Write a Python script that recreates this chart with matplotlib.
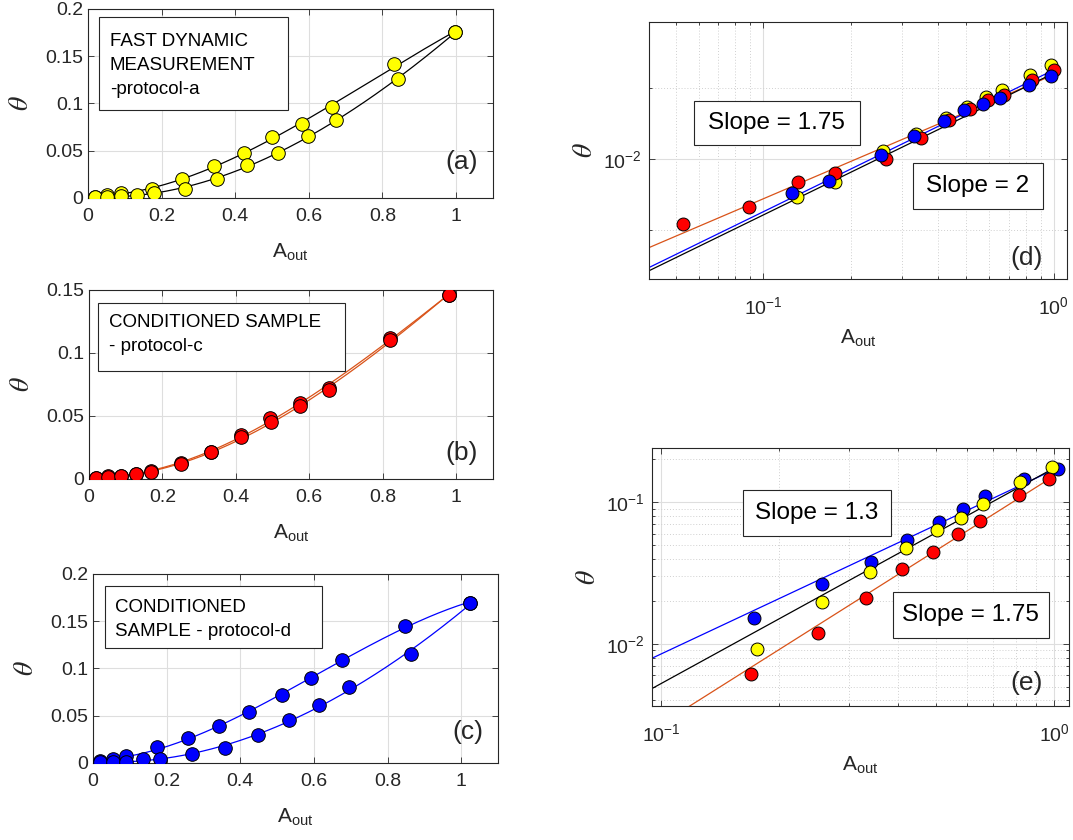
import numpy as np
import matplotlib
matplotlib.use("Agg")
import matplotlib.pyplot as plt
from matplotlib.patches import Rectangle
from matplotlib.ticker import FixedLocator, NullFormatter, FuncFormatter, LogFormatterSciNotation

plt.rcParams['font.family'] = ['Liberation Sans', 'DejaVu Sans']
plt.rcParams['mathtext.fontset'] = 'stix'

# (a) fast dynamic measurement, protocol-a  (two branches of the loop)
a_up_x = [0.018, 0.052, 0.089, 0.174, 0.256, 0.341, 0.423, 0.500, 0.582, 0.662, 0.830, 0.997]
a_up_y = [0.001, 0.0028, 0.0053, 0.0099, 0.0205, 0.0336, 0.0471, 0.0641, 0.0779, 0.0966, 0.1416, 0.1752]
a_dn_x = [0.018, 0.052, 0.089, 0.134, 0.178, 0.264, 0.351, 0.433, 0.515, 0.599, 0.675, 0.841, 0.997]
a_dn_y = [0.001, 0.001, 0.0018, 0.0035, 0.0053, 0.0099, 0.0205, 0.0347, 0.0481, 0.0651, 0.0821, 0.1260, 0.1752]

# (b) conditioned sample, protocol-c
b_up_x = [0.018, 0.052, 0.088, 0.127, 0.169, 0.251, 0.333, 0.413, 0.494, 0.575, 0.654, 0.820, 0.980]
b_up_y = [0.0008, 0.0021, 0.0026, 0.0040, 0.0062, 0.0127, 0.0216, 0.0346, 0.0480, 0.0602, 0.0724, 0.1117, 0.1463]
b_dn_x = [0.018, 0.052, 0.088, 0.127, 0.169, 0.251, 0.333, 0.413, 0.497, 0.575, 0.654, 0.820, 0.980]
b_dn_y = [0.0008, 0.0019, 0.0024, 0.0036, 0.0053, 0.0120, 0.0212, 0.0330, 0.0455, 0.0580, 0.0705, 0.1104, 0.1463]

# (c) conditioned sample, protocol-d
c_up_x = [0.018, 0.055, 0.089, 0.173, 0.259, 0.343, 0.425, 0.514, 0.593, 0.675, 0.848, 1.025]
c_up_y = [0.0018, 0.0046, 0.0070, 0.0165, 0.0264, 0.0387, 0.0539, 0.0722, 0.0898, 0.1085, 0.1454, 0.1697]
c_dn_x = [0.018, 0.055, 0.089, 0.136, 0.182, 0.269, 0.359, 0.447, 0.532, 0.615, 0.696, 0.865, 1.025]
c_dn_y = [0.001, 0.001, 0.001, 0.0042, 0.0042, 0.0095, 0.0158, 0.0299, 0.0458, 0.0609, 0.0799, 0.1151, 0.1697]

# (d) log-log
d_red_x = [0.053, 0.089, 0.132, 0.177, 0.265, 0.348, 0.434, 0.513, 0.593, 0.672, 0.838, 1.0]
d_red_y = [0.0012, 0.00213, 0.0047, 0.0063, 0.0099, 0.0196, 0.0354, 0.0506, 0.0677, 0.0796, 0.130, 0.179]
d_yel_x = [0.131, 0.176, 0.258, 0.336, 0.427, 0.502, 0.586, 0.664, 0.826, 0.98]
d_yel_y = [0.00289, 0.0048, 0.0130, 0.0225, 0.0374, 0.0546, 0.0754, 0.0937, 0.152, 0.211]
d_blu_x = [0.126, 0.168, 0.255, 0.330, 0.418, 0.491, 0.571, 0.652, 0.820, 0.98]
d_blu_y = [0.00329, 0.00495, 0.0114, 0.0211, 0.0343, 0.049, 0.0589, 0.073, 0.110, 0.149]
d_fit_slope = [1.75, 2.0, 2.0]
d_fit_coef = [0.155, 0.181, 0.163]
d_fit_col = ['#D95319', '#0000FF', 'black']

# (e) log-log
e_blu_x = [0.172, 0.256, 0.342, 0.422, 0.508, 0.586, 0.668, 0.836, 1.02]
e_blu_y = [0.0152, 0.0264, 0.0381, 0.0542, 0.0718, 0.0897, 0.1095, 0.145, 0.171]
e_yel_x = [0.175, 0.257, 0.340, 0.420, 0.503, 0.580, 0.659, 0.819, 0.987]
e_yel_y = [0.0092, 0.0196, 0.0324, 0.0473, 0.0638, 0.0771, 0.0968, 0.1396, 0.1766]
e_red_x = [0.169, 0.251, 0.332, 0.410, 0.493, 0.569, 0.648, 0.815, 0.971]
e_red_y = [0.0061, 0.0119, 0.0211, 0.0338, 0.0448, 0.0598, 0.0730, 0.1127, 0.145]
e_fit_slope = [1.3, 1.52, 1.75]
e_fit_coef = [0.1695, 0.174, 0.153]
e_fit_col = ['#0000FF', 'black', '#D95319']

AX = '#262626'
GRID = '#dedede'
MS = 9.8


def style(ax, xpad=7, xlabpad=12, ylabpad=8):
    for s in ax.spines.values():
        s.set_color(AX)
        s.set_linewidth(0.8)
    ax.tick_params(which='both', direction='in', top=True, right=True,
                   colors=AX, labelsize=14, width=0.6)
    ax.tick_params(which='major', length=4)
    ax.tick_params(which='minor', length=2.5)
    ax.tick_params(axis='x', pad=xpad)
    ax.grid(True, which='major', color=GRID, lw=0.8)
    ax.set_axisbelow(True)
    ax.set_xlabel(r'$\mathregular{A_{out}}$', fontsize=15, color=AX, labelpad=xlabpad)
    ax.set_ylabel(r'$\theta$', fontsize=20, color=AX, labelpad=ylabpad)


def textbox(ax, x0, y0, x1, y1, tx, ty, s):
    ax.add_patch(Rectangle((x0, y0), x1 - x0, y1 - y0, transform=ax.transAxes,
                           fc='white', ec=AX, lw=0.8, zorder=5))
    ax.text(tx, ty, s, transform=ax.transAxes, fontsize=13.5, ha='left', va='top',
            linespacing=1.55, zorder=6, color='black')


def loop_panel(ax, ux, uy, dx, dy, fc, lc, ymax, yt):
    for xs, ys in ((ux, uy), (dx, dy)):
        p = np.polyfit(xs, ys, 3)
        xx = np.linspace(xs[0], xs[-1], 200)
        ax.plot(xx, np.polyval(p, xx), color=lc, lw=0.9, zorder=2)
    for xs, ys in ((ux, uy), (dx, dy)):
        ax.plot(xs, ys, 'o', ms=MS, mfc=fc, mec='black', mew=0.7, zorder=3)
    ax.set_xlim(0, 1.1)
    ax.set_ylim(0, ymax)
    ax.set_xticks([0, 0.2, 0.4, 0.6, 0.8, 1.0])
    ax.set_yticks(yt)
    fmt = FuncFormatter(lambda v, p: '%g' % round(v, 4))
    ax.xaxis.set_major_formatter(fmt)
    ax.yaxis.set_major_formatter(fmt)
    style(ax)


def slopebox(ax, cx, cy, w, h, s):
    ax.add_patch(Rectangle((cx - w / 2, cy - h / 2), w, h, transform=ax.transAxes,
                           fc='white', ec=AX, lw=0.8, zorder=5))
    ax.text(cx, cy, s, transform=ax.transAxes, fontsize=17.5, ha='center', va='center',
            zorder=6, color='black')


fig = plt.figure(figsize=(10.73, 8.4), dpi=100)

# ---- (a)
ax_a = fig.add_axes([0.0820, 0.7643, 0.3774, 0.225])
loop_panel(ax_a, a_up_x, a_up_y, a_dn_x, a_dn_y, '#FFFF00', 'black', 0.2,
           [0, 0.05, 0.1, 0.15, 0.2])
textbox(ax_a, 0.027, 0.466, 0.494, 0.958, 0.054, 0.874,
        'FAST DYNAMIC\nMEASUREMENT\n-protocol-a')
ax_a.text(0.963, 0.19, '(a)', transform=ax_a.transAxes, fontsize=19, color=AX,
          ha='right', va='center')

# ---- (b)
ax_b = fig.add_axes([0.0829, 0.4298, 0.3765, 0.225])
loop_panel(ax_b, b_up_x, b_up_y, b_dn_x, b_dn_y, '#FF0000', '#D95319', 0.15,
           [0, 0.05, 0.1, 0.15])
textbox(ax_b, 0.022, 0.573, 0.635, 0.933, 0.0495, 0.874,
        'CONDITIONED SAMPLE\n- protocol-c')
ax_b.text(0.963, 0.138, '(b)', transform=ax_b.transAxes, fontsize=19, color=AX,
          ha='right', va='center')

# ---- (c)
ax_c = fig.add_axes([0.0867, 0.0917, 0.3774, 0.225])
loop_panel(ax_c, c_up_x, c_up_y, c_dn_x, c_dn_y, '#0000FF', '#0000FF', 0.2,
           [0, 0.05, 0.1, 0.15, 0.2])
textbox(ax_c, 0.0296, 0.608, 0.565, 0.937, 0.054, 0.869,
        'CONDITIONED\nSAMPLE - protocol-d')
ax_c.text(0.963, 0.164, '(c)', transform=ax_c.transAxes, fontsize=19, color=AX,
          ha='right', va='center')


def log_style(ax, xmaj, xmin, ymaj, ymin):
    ax.set_xscale('log')
    ax.set_yscale('log')
    ax.xaxis.set_major_locator(FixedLocator(xmaj))
    ax.xaxis.set_minor_locator(FixedLocator(xmin))
    ax.yaxis.set_major_locator(FixedLocator(ymaj))
    ax.yaxis.set_minor_locator(FixedLocator(ymin))
    ax.xaxis.set_major_formatter(LogFormatterSciNotation())
    ax.yaxis.set_major_formatter(LogFormatterSciNotation())
    ax.xaxis.set_minor_formatter(NullFormatter())
    ax.yaxis.set_minor_formatter(NullFormatter())
    style(ax, xpad=12.5, xlabpad=7, ylabpad=4)
    ax.tick_params(axis='y', pad=5)
    ax.grid(True, which='minor', color='#d0d0d0', lw=0.7, ls=(0, (1, 2)))


xminor_d = [0.04, 0.05, 0.06, 0.07, 0.08, 0.09, 0.2, 0.3, 0.4, 0.5, 0.6, 0.7, 0.8, 0.9]
xminor_e = [0.2, 0.3, 0.4, 0.5, 0.6, 0.7, 0.8, 0.9]
yminor_e = [0.004, 0.005, 0.006, 0.007, 0.008, 0.009,
            0.02, 0.03, 0.04, 0.05, 0.06, 0.07, 0.08, 0.09, 0.2]

# ---- (d)
ax_d = fig.add_axes([0.6048, 0.6679, 0.3896, 0.306])
xl = np.array([0.04, 1.0])
for s, c, col in zip(d_fit_slope, d_fit_coef, d_fit_col):
    ax_d.plot(xl, c * xl ** s, color=col, lw=0.9, zorder=2)
for xs, ys, fc in ((d_yel_x, d_yel_y, '#FFFF00'), (d_red_x, d_red_y, '#FF0000'),
                   (d_blu_x, d_blu_y, '#0000FF')):
    ax_d.plot(xs, ys, 'o', ms=9.3, mfc=fc, mec='black', mew=0.7, zorder=3)
log_style(ax_d, [0.1, 1.0], xminor_d, [0.01], [0.001, 0.1])
ax_d.set_xlim(0.0404, 1.11)
ax_d.set_ylim(2.04e-4, 0.86)
slopebox(ax_d, 0.306, 0.607, 0.397, 0.172, 'Slope = 1.75')
slopebox(ax_d, 0.787, 0.362, 0.309, 0.178, 'Slope = 2')
ax_d.text(0.943, 0.082, '(d)', transform=ax_d.transAxes, fontsize=19, color=AX,
          ha='right', va='center')

# ---- (e)
ax_e = fig.add_axes([0.6076, 0.1595, 0.3886, 0.307])
xl = np.array([0.0948, 1.0])
for s, c, col in zip(e_fit_slope, e_fit_coef, e_fit_col):
    ax_e.plot(xl, c * xl ** s, color=col, lw=0.9, zorder=2)
for xs, ys, fc in ((e_blu_x, e_blu_y, '#0000FF'), (e_yel_x, e_yel_y, '#FFFF00'),
                   (e_red_x, e_red_y, '#FF0000')):
    ax_e.plot(xs, ys, 'o', ms=9.3, mfc=fc, mec='black', mew=0.7, zorder=3)
log_style(ax_e, [0.1, 1.0], xminor_e, [0.01, 0.1], yminor_e)
ax_e.set_xlim(0.0948, 1.09)
ax_e.set_ylim(0.00365, 0.240)
slopebox(ax_e, 0.396, 0.748, 0.356, 0.178, 'Slope = 1.3')
slopebox(ax_e, 0.765, 0.353, 0.376, 0.178, 'Slope = 1.75')
ax_e.text(0.938, 0.089, '(e)', transform=ax_e.transAxes, fontsize=19, color=AX,
          ha='right', va='center')

fig.savefig('out.png', dpi=100)
